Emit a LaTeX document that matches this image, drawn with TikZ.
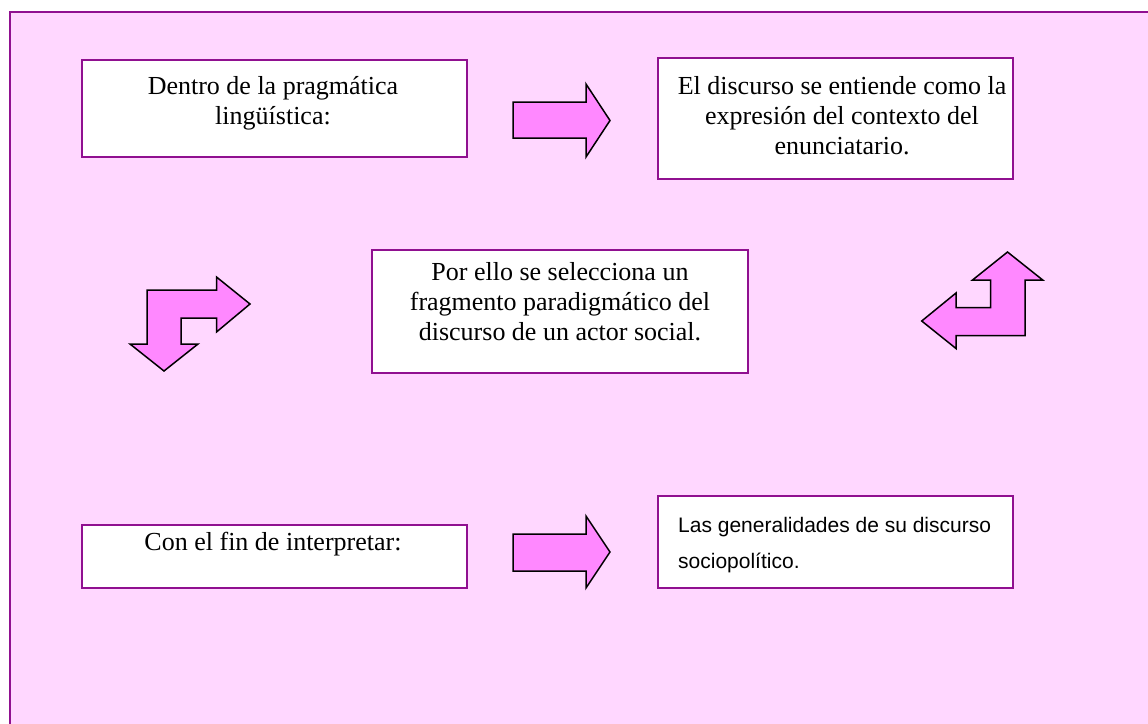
\documentclass[tikz,border=0pt]{standalone}
\usepackage{fontspec}
\setmainfont{Liberation Serif}
\newfontfamily\arialfont{Liberation Sans}
\definecolor{bgc}{RGB}{255,215,255}
\definecolor{framec}{RGB}{144,16,144}
\definecolor{arrowc}{RGB}{255,136,255}
\begin{document}
\begin{tikzpicture}[x=1pt,y=-1pt,
  boxst/.style={draw=framec, line width=2pt, fill=white, inner sep=0pt},
  arr/.style={draw=black, line width=1.5pt, fill=arrowc, line join=miter},
  txt/.style={font=\fontsize{26}{30}\selectfont, align=center, inner sep=0pt},
  stxt/.style={font=\arialfont\fontsize{21}{36}\selectfont, align=left, inner sep=0pt},
]
\useasboundingbox (0,0) rectangle (1148,723);
\draw[draw=framec, line width=2pt, fill=bgc] (10,12) rectangle (1175,760);

\node[boxst, minimum width=385pt, minimum height=97pt] (b1) at (274.5,108.5) {};
\node[boxst, minimum width=355pt, minimum height=121pt] (b2) at (835.5,118.5) {};
\node[boxst, minimum width=376pt, minimum height=123pt] (b3) at (560,311.5) {};
\node[boxst, minimum width=385pt, minimum height=63pt] (b4) at (274.5,556.5) {};
\node[boxst, minimum width=355pt, minimum height=92pt] (b5) at (835.5,542) {};

\node[txt, anchor=base] (t1) at (273,124) {Dentro de la pragmática\\lingüística:};
\node[txt, anchor=base] (t2) at (842,154) {El discurso se entiende como la\\expresión del contexto del\\enunciatario.};
\node[txt, anchor=base] (t3) at (560,340) {Por ello se selecciona un\\fragmento paradigmático del\\discurso de un actor social.};
\node[txt, anchor=base] (t4) at (273,550) {Con el fin de interpretar:};
\node[stxt, anchor=base west] (t5) at (678,568) {Las generalidades de su discurso\\sociopolítico.};

% straight arrows
\draw[arr] (513,102) -- (586,102) -- (586,84) -- (610,120.5) -- (586,157) -- (586,138) -- (513,138) -- cycle;
\draw[arr] (513,534) -- (586,534) -- (586,516) -- (610,552) -- (586,588) -- (586,571) -- (513,571) -- cycle;
% bent arrow left (right then down)
\draw[arr] (147,290) -- (216.5,290) -- (216.5,277) -- (250,304) -- (216.5,332) -- (216.5,318) -- (181,318) -- (181,344) -- (198,344) -- (164,371) -- (130,344) -- (147,344) -- cycle;
% bent arrow right (up and left)
\draw[arr] (1025,335.5) -- (1025,280) -- (1042.7,280) -- (1007.5,252) -- (972.5,280) -- (990.7,280) -- (990.7,307.5) -- (956,307.5) -- (956,293) -- (921.7,321) -- (956,348.5) -- (956,335.5) -- cycle;
\end{tikzpicture}
\end{document}
